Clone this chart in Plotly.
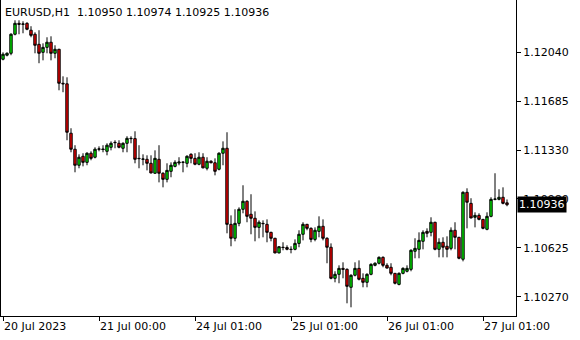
import pandas as pd
import plotly.graph_objects as go

# hourly bar times (weekend gap between 21 Jul and 24 Jul)
times = list(pd.date_range("2023-07-20 00:00", periods=48, freq="h")) + \
        list(pd.date_range("2023-07-24 01:00", periods=79, freq="h"))
bar_labels = [t.strftime("%Y-%m-%d %H:%M") for t in times]

open_ = [1.11990, 1.12019, 1.12033, 1.12171, 1.12250, 1.12243, 1.12250, 1.12200, 1.12171, 1.12098,
         1.12040, 1.12076, 1.12113, 1.12033, 1.12062, 1.11816, 1.11812, 1.11454, 1.11338, 1.11222,
         1.11287, 1.11243, 1.11309, 1.11280, 1.11338, 1.11340, 1.11323, 1.11352, 1.11388, 1.11381,
         1.11345, 1.11381, 1.11417, 1.11415, 1.11272, 1.11265, 1.11265, 1.11236, 1.11164, 1.11265,
         1.11164, 1.11120, 1.11178, 1.11214, 1.11238, 1.11243, 1.11236, 1.11301, 1.11272, 1.11229,
         1.11280, 1.11200, 1.11251, 1.11240, 1.11193, 1.11309, 1.11345, 1.10794, 1.10693, 1.10801,
         1.10903, 1.10961, 1.10867, 1.10838, 1.10772, 1.10801, 1.10794, 1.10736, 1.10693, 1.10587,
         1.10628, 1.10626, 1.10613, 1.10613, 1.10656, 1.10722, 1.10794, 1.10765, 1.10685, 1.10743,
         1.10780, 1.10693, 1.10628, 1.10403, 1.10432, 1.10475, 1.10468, 1.10338, 1.10425, 1.10475,
         1.10403, 1.10374, 1.10432, 1.10497, 1.10512, 1.10555, 1.10497, 1.10483, 1.10439, 1.10359,
         1.10439, 1.10454, 1.10468, 1.10599, 1.10613, 1.10671, 1.10743, 1.10736, 1.10809, 1.10613,
         1.10664, 1.10635, 1.10620, 1.10751, 1.10700, 1.10541, 1.11026, 1.10946, 1.10845, 1.10859,
         1.10830, 1.10758, 1.10852, 1.10975, 1.10975, 1.10990, 1.10950]
high = [1.12040, 1.12040, 1.12178, 1.12272, 1.12272, 1.12265, 1.12258, 1.12229, 1.12185, 1.12200,
        1.12105, 1.12149, 1.12156, 1.12091, 1.12065, 1.11866, 1.11859, 1.11490, 1.11367, 1.11301,
        1.11309, 1.11316, 1.11323, 1.11352, 1.11359, 1.11367, 1.11381, 1.11395, 1.11403, 1.11403,
        1.11388, 1.11432, 1.11432, 1.11468, 1.11367, 1.11301, 1.11294, 1.11294, 1.11330, 1.11367,
        1.11171, 1.11236, 1.11243, 1.11258, 1.11280, 1.11251, 1.11294, 1.11309, 1.11309, 1.11316,
        1.11309, 1.11280, 1.11258, 1.11272, 1.11316, 1.11395, 1.11461, 1.10859, 1.10903, 1.10917,
        1.11077, 1.10968, 1.11012, 1.10888, 1.10823, 1.10823, 1.10830, 1.10740, 1.10696, 1.10635,
        1.10664, 1.10642, 1.10635, 1.10685, 1.10751, 1.10809, 1.10797, 1.10772, 1.10772, 1.10852,
        1.10830, 1.10700, 1.10656, 1.10454, 1.10497, 1.10519, 1.10475, 1.10432, 1.10519, 1.10533,
        1.10439, 1.10439, 1.10512, 1.10519, 1.10562, 1.10562, 1.10512, 1.10512, 1.10441, 1.10446,
        1.10483, 1.10497, 1.10613, 1.10693, 1.10736, 1.10751, 1.10765, 1.10845, 1.10812, 1.10693,
        1.10700, 1.10707, 1.10772, 1.10809, 1.10703, 1.11033, 1.11055, 1.10983, 1.10881, 1.10874,
        1.10833, 1.10881, 1.10990, 1.11164, 1.11048, 1.11062, 1.10974]
low = [1.11982, 1.12011, 1.12019, 1.12163, 1.12171, 1.12178, 1.12200, 1.12149, 1.12033, 1.11961,
       1.11982, 1.12033, 1.11982, 1.11997, 1.11765, 1.11751, 1.11403, 1.11316, 1.11171, 1.11200,
       1.11214, 1.11222, 1.11258, 1.11272, 1.11323, 1.11316, 1.11294, 1.11330, 1.11345, 1.11345,
       1.11316, 1.11316, 1.11381, 1.11236, 1.11200, 1.11222, 1.11185, 1.11164, 1.11160, 1.11098,
       1.11062, 1.11098, 1.11135, 1.11207, 1.11222, 1.11171, 1.11207, 1.11236, 1.11222, 1.11222,
       1.11200, 1.11185, 1.11236, 1.11149, 1.11185, 1.11222, 1.10729, 1.10635, 1.10671, 1.10780,
       1.10874, 1.10809, 1.10722, 1.10671, 1.10693, 1.10700, 1.10664, 1.10671, 1.10584, 1.10584,
       1.10606, 1.10606, 1.10584, 1.10606, 1.10628, 1.10678, 1.10751, 1.10664, 1.10671, 1.10700,
       1.10678, 1.10512, 1.10396, 1.10374, 1.10367, 1.10403, 1.10222, 1.10193, 1.10417, 1.10388,
       1.10338, 1.10338, 1.10425, 1.10490, 1.10504, 1.10483, 1.10475, 1.10425, 1.10359, 1.10352,
       1.10432, 1.10446, 1.10454, 1.10548, 1.10548, 1.10613, 1.10700, 1.10707, 1.10606, 1.10555,
       1.10555, 1.10555, 1.10606, 1.10613, 1.10541, 1.10526, 1.10765, 1.10838, 1.10772, 1.10823,
       1.10758, 1.10751, 1.10845, 1.10968, 1.10968, 1.10939, 1.10925]
close = [1.12026, 1.12033, 1.12171, 1.12250, 1.12243, 1.12245, 1.12207, 1.12163, 1.12091, 1.12033,
         1.12076, 1.12113, 1.12033, 1.12062, 1.11816, 1.11812, 1.11461, 1.11338, 1.11222, 1.11280,
         1.11243, 1.11309, 1.11272, 1.11338, 1.11340, 1.11336, 1.11367, 1.11381, 1.11386, 1.11352,
         1.11381, 1.11417, 1.11415, 1.11265, 1.11270, 1.11267, 1.11236, 1.11166, 1.11272, 1.11164,
         1.11120, 1.11185, 1.11222, 1.11243, 1.11245, 1.11244, 1.11287, 1.11272, 1.11229, 1.11280,
         1.11203, 1.11251, 1.11240, 1.11178, 1.11309, 1.11345, 1.10794, 1.10693, 1.10801, 1.10903,
         1.10961, 1.10852, 1.10838, 1.10772, 1.10809, 1.10799, 1.10736, 1.10693, 1.10587, 1.10632,
         1.10626, 1.10613, 1.10612, 1.10656, 1.10722, 1.10794, 1.10765, 1.10685, 1.10751, 1.10780,
         1.10693, 1.10628, 1.10403, 1.10432, 1.10475, 1.10468, 1.10345, 1.10425, 1.10475, 1.10396,
         1.10374, 1.10432, 1.10504, 1.10512, 1.10555, 1.10497, 1.10477, 1.10439, 1.10367, 1.10439,
         1.10475, 1.10475, 1.10606, 1.10620, 1.10678, 1.10736, 1.10729, 1.10809, 1.10613, 1.10664,
         1.10628, 1.10613, 1.10751, 1.10700, 1.10548, 1.11026, 1.10954, 1.10840, 1.10859, 1.10830,
         1.10765, 1.10852, 1.10975, 1.10977, 1.10990, 1.10946, 1.10936]

price_ticks = [1.12040, 1.11685, 1.11330, 1.10980, 1.10625, 1.10270]
price_tick_text = ["1.12040", "1.11685", "1.11330", "1.10980", "1.10625", "1.10270"]
time_tick_idx = [0, 24, 48, 72, 96, 120]
time_tick_text = ["20 Jul 2023", "21 Jul 00:00", "24 Jul 01:00", "25 Jul 01:00",
                  "26 Jul 01:00", "27 Jul 01:00"]
symbol_title = "EURUSD,H1  1.10950 1.10974 1.10925 1.10936"
last_price = close[-1]

FONT = "DejaVu Sans"

fig = go.Figure(go.Candlestick(
    x=bar_labels, open=open_, high=high, low=low, close=close,
    increasing=dict(fillcolor="#00e600", line=dict(color="black", width=1)),
    decreasing=dict(fillcolor="#f00000", line=dict(color="black", width=1)),
    whiskerwidth=0, showlegend=False, hoverinfo="skip",
))

fig.update_layout(
    width=580, height=340,
    margin=dict(l=1, r=64, t=0, b=24),
    paper_bgcolor="white", plot_bgcolor="white",
    font=dict(family=FONT, size=11, color="black"),
    showlegend=False,
    boxgap=0.15,
)
fig.update_xaxes(
    type="category", categoryorder="array", categoryarray=bar_labels,
    range=[-0.5, 128.25],
    rangeslider=dict(visible=False),
    showgrid=False, zeroline=False,
    showline=True, linecolor="black", linewidth=1,
    ticks="outside", ticklen=4, tickcolor="black", tickwidth=1,
    tickmode="array",
    tickvals=[bar_labels[i] for i in time_tick_idx],
    ticktext=time_tick_text,
    ticklabelposition="outside right",
    tickfont=dict(family=FONT, size=11, color="black"),
)
fig.update_yaxes(
    side="right", range=[1.10130, 1.12419],
    showgrid=False, zeroline=False,
    showline=True, linecolor="black", linewidth=1, mirror=True,
    ticks="outside", ticklen=4, tickcolor="black", tickwidth=1,
    tickmode="array", tickvals=price_ticks, ticktext=price_tick_text,
    tickfont=dict(family=FONT, size=11, color="black"),
)

fig.add_annotation(
    xref="paper", yref="paper", x=0, y=1, xanchor="left", yanchor="top",
    xshift=2, yshift=-4, text=symbol_title, showarrow=False,
    font=dict(family=FONT, size=11, color="black"),
)
fig.add_annotation(
    xref="paper", yref="y", x=1, y=last_price, xanchor="left", yanchor="middle",
    xshift=1, text=f"{last_price:.5f}", showarrow=False,
    bgcolor="black", borderpad=1,
    font=dict(family=FONT, size=11, color="white"),
)

fig.write_html("out.html")
